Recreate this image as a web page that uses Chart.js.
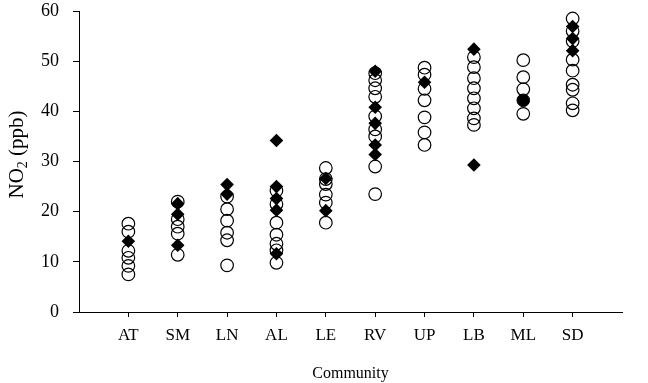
<!DOCTYPE html>
<html>
<head>
<meta charset="utf-8">
<script src="https://cdn.jsdelivr.net/npm/chart.js@4"></script>
<style>
  html, body { margin: 0; padding: 0; background: #fff; }
  #wrap { width: 648px; height: 383px; }
</style>
</head>
<body>
<div id="wrap"><canvas id="no2chart" width="648" height="383"></canvas></div>
<script>
// communities along the x axis
const communities = ['AT', 'SM', 'LN', 'AL', 'LE', 'RV', 'UP', 'LB', 'ML', 'SD'];

// open circles, one list per community
const circleValues = [
  [17.6, 16.0, 12.2, 10.8, 9.2, 7.5],
  [22.0, 18.5, 17.0, 15.6, 11.4],
  [23.0, 20.5, 18.2, 15.8, 14.3, 9.3],
  [24.2, 21.5, 17.8, 15.4, 13.6, 12.3, 9.8],
  [28.7, 26.5, 25.5, 23.4, 21.8, 17.8],
  [47.6, 46.2, 44.6, 42.9, 39.0, 36.4, 35.0, 29.0, 23.5],
  [48.7, 47.3, 44.5, 42.2, 38.8, 35.8, 33.3],
  [50.8, 48.8, 46.6, 44.6, 42.6, 40.6, 38.6, 37.3],
  [50.2, 46.8, 44.4, 39.5],
  [58.5, 56.0, 54.0, 50.3, 48.1, 45.3, 44.3, 41.6, 40.2]
];

// filled diamonds
const diamondValues = [
  [14.1],
  [21.6, 19.5, 13.3],
  [25.4, 23.5],
  [34.2, 25.0, 22.6, 20.3, 11.6],
  [26.6, 20.2],
  [48.0, 40.8, 37.6, 33.3, 31.4],
  [45.8],
  [52.4, 29.3],
  [],
  [56.9, 54.5, 52.1]
];

// filled circle (only at ML)
const filledValues = [[], [], [], [], [], [], [], [], [42.2], []];

const yTicks = [0, 10, 20, 30, 40, 50, 60];

function toPoints(lists) {
  let pts = [];
  for (let i = 0; i < lists.length; i++) {
    for (let j = 0; j < lists[i].length; j++) {
      pts.push({ x: i + 1, y: lists[i][j] });
    }
  }
  return pts;
}

const serif = "'Liberation Serif', 'Times New Roman', serif";

// y title with a real subscript 2
const yTitlePlugin = {
  id: 'yTitle',
  afterDraw(chart) {
    const ctx = chart.ctx;
    const area = chart.chartArea;
    const cy = (area.top + area.bottom) / 2 - 7;
    ctx.save();
    ctx.translate(16, cy);
    ctx.rotate(-Math.PI / 2);
    ctx.fillStyle = '#000';
    ctx.textBaseline = 'alphabetic';
    ctx.font = '21px ' + serif;
    const w1 = ctx.measureText('NO').width;
    ctx.font = '14px ' + serif;
    const w2 = ctx.measureText('2').width;
    ctx.font = '21px ' + serif;
    const w3 = ctx.measureText(' (ppb)').width;
    let x = -(w1 + w2 + w3) / 2;
    ctx.textAlign = 'left';
    ctx.fillText('NO', x, 7);
    ctx.font = '14px ' + serif;
    ctx.fillText('2', x + w1, 11);
    ctx.font = '21px ' + serif;
    ctx.fillText(' (ppb)', x + w1 + w2, 7);
    ctx.restore();
  }
};

const ctx = document.getElementById('no2chart').getContext('2d');
const myChart = new Chart(ctx, {
  type: 'scatter',
  data: {
    datasets: [{
      label: 'open',
      data: toPoints(circleValues),
      pointStyle: 'circle',
      pointRadius: 6.3,
      borderWidth: 1.2,
      borderColor: '#000',
      backgroundColor: 'rgba(0,0,0,0)',
      order: 2
    }, {
      label: 'diamond',
      data: toPoints(diamondValues),
      pointStyle: 'rectRot',
      pointRadius: 6.8,
      borderWidth: 0,
      borderColor: '#000',
      backgroundColor: '#000',
      order: 1
    }, {
      label: 'filled',
      data: toPoints(filledValues),
      pointStyle: 'circle',
      pointRadius: 6.3,
      borderWidth: 1,
      borderColor: '#000',
      backgroundColor: '#000',
      order: 0
    }]
  },
  options: {
    responsive: false,
    animation: false,
    layout: { padding: { top: 11, right: 26, left: 0, bottom: 0 } },
    plugins: {
      legend: { display: false },
      tooltip: { enabled: false }
    },
    scales: {
      x: {
        type: 'linear',
        min: 0,
        max: 11,
        afterBuildTicks: (scale) => {
          scale.ticks = communities.map((c, i) => ({ value: i + 1 }));
        },
        afterFit: (scale) => {
          scale.height = 71;
          scale.paddingLeft = 0;
          scale.paddingRight = 0;
        },
        border: { display: true, color: '#000', width: 1 },
        grid: { drawOnChartArea: false, drawTicks: true, tickLength: 5, color: '#000' },
        ticks: {
          color: '#000',
          padding: 8,
          maxRotation: 0,
          autoSkip: false,
          font: { family: serif, size: 17 },
          callback: (v) => communities[v - 1] || ''
        },
        title: {
          display: true,
          text: 'Community',
          color: '#000',
          font: { family: serif, size: 16 },
          padding: { top: 4, bottom: 0 }
        }
      },
      y: {
        min: 0,
        max: 60,
        afterBuildTicks: (scale) => {
          scale.ticks = yTicks.map(v => ({ value: v }));
        },
        afterFit: (scale) => {
          scale.width = 79;
          scale.paddingTop = 0;
          scale.paddingBottom = 0;
        },
        border: { display: true, color: '#000', width: 1 },
        grid: { drawOnChartArea: false, drawTicks: true, tickLength: 6, color: '#000' },
        ticks: {
          color: '#000',
          padding: 14,
          font: { family: serif, size: 18 }
        }
      }
    }
  },
  plugins: [yTitlePlugin]
});
</script>
</body>
</html>
